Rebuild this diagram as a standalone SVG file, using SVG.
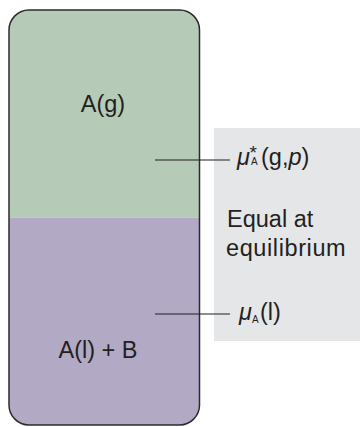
<svg xmlns="http://www.w3.org/2000/svg" width="360" height="427" viewBox="0 0 360 427">
<style>
.t{font-family:"Liberation Sans",Arial,sans-serif;font-size:23.5px;fill:#231f20}
.ln{stroke:#231f20;stroke-width:1.2;fill:none}
</style>
<defs>
<clipPath id="cp"><rect x="9" y="10" width="190.5" height="415" rx="20" ry="20"/></clipPath>
</defs>
<rect id="panel" x="214" y="128" width="146" height="213" fill="#e5e6e8"/>
<g id="container">
<g clip-path="url(#cp)">
<rect id="gas" x="9" y="10" width="191" height="207.5" fill="#b5cab7"/>
<rect id="liquid" x="9" y="217.5" width="191" height="208" fill="#b2a9c4"/>
</g>
<rect x="9" y="10" width="190.5" height="415" rx="20" ry="20" fill="none" stroke="#2b2b2b" stroke-width="1.5"/>
<text class="t" x="103" y="112" text-anchor="middle">A(g)</text>
<text class="t" x="98" y="358" text-anchor="middle">A(l) + B</text>
</g>
<g id="connectors">
<line class="ln" x1="155" y1="160" x2="230" y2="160"/>
<line class="ln" x1="155" y1="314" x2="230" y2="314"/>
</g>
<g id="labels">
<text class="t" x="237" y="165"><tspan font-style="italic">μ</tspan><tspan x="249.5" y="159" font-size="19">*</tspan><tspan x="251" y="164.5" font-size="10">A</tspan><tspan x="261" y="165">(g,</tspan><tspan font-style="italic">p</tspan><tspan>)</tspan></text>
<text class="t" x="227" y="227">Equal at</text>
<text class="t" x="226" y="256" letter-spacing="0.6">equilibrium</text>
<text class="t" x="239" y="320"><tspan font-style="italic">μ</tspan><tspan x="252" y="323" font-size="10">A</tspan><tspan x="260" y="320">(l)</tspan></text>
</g>
</svg>
